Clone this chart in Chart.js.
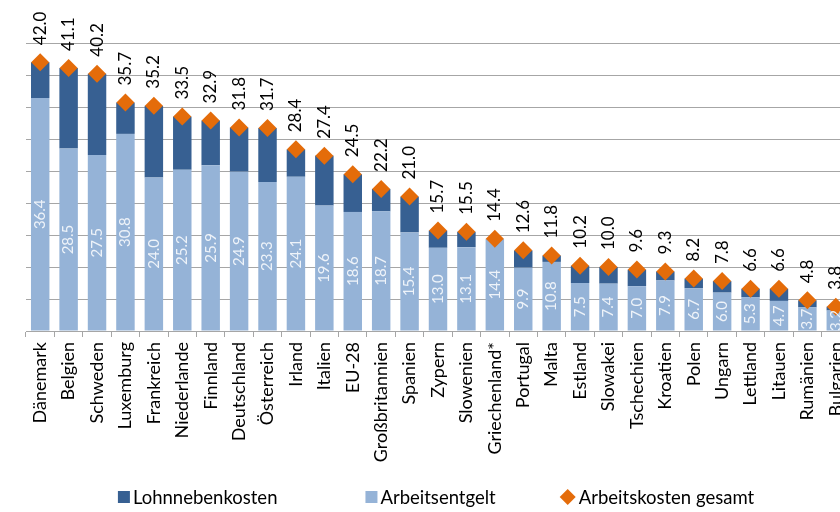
<!DOCTYPE html>
<html>
<head>
<meta charset="utf-8">
<script src="https://cdn.jsdelivr.net/npm/chart.js@4"></script>
<style>
  html, body { margin: 0; padding: 0; background: #fff; overflow: hidden; }
  #wrap { width: 870px; height: 512px; }
</style>
</head>
<body>
<div id="wrap"><canvas id="laborChart"></canvas></div>
<script>
const laender = ['Dänemark', 'Belgien', 'Schweden', 'Luxemburg', 'Frankreich', 'Niederlande', 'Finnland',
  'Deutschland', 'Österreich', 'Irland', 'Italien', 'EU-28', 'Großbritannien', 'Spanien', 'Zypern',
  'Slowenien', 'Griechenland*', 'Portugal', 'Malta', 'Estland', 'Slowakei', 'Tschechien', 'Kroatien',
  'Polen', 'Ungarn', 'Lettland', 'Litauen', 'Rumänien', 'Bulgarien'];

const arbeitsentgelt = [36.4, 28.5, 27.5, 30.8, 24.0, 25.2, 25.9, 24.9, 23.3, 24.1, 19.6, 18.6, 18.7, 15.4,
  13.0, 13.1, 14.4, 9.9, 10.8, 7.5, 7.4, 7.0, 7.9, 6.7, 6.0, 5.3, 4.7, 3.7, 3.2];

const lohnnebenkosten = [5.6, 12.6, 12.7, 4.9, 11.2, 8.3, 7.0, 6.9, 8.4, 4.3, 7.8, 5.9, 3.5, 5.6,
  2.7, 2.4, 0.0, 2.7, 1.0, 2.7, 2.6, 2.6, 1.4, 1.5, 1.8, 1.3, 1.9, 1.1, 0.6];

const gesamt = [42.0, 41.1, 40.2, 35.7, 35.2, 33.5, 32.9, 31.8, 31.7, 28.4, 27.4, 24.5, 22.2, 21.0,
  15.7, 15.5, 14.4, 12.6, 11.8, 10.2, 10.0, 9.6, 9.3, 8.2, 7.8, 6.6, 6.6, 4.8, 3.8];

const legendReihenfolge = ['Lohnnebenkosten', 'Arbeitsentgelt', 'Arbeitskosten gesamt'];

const FONT = 'Lato, "DejaVu Sans", sans-serif';

// value labels: total above the diamond, Arbeitsentgelt inside the light bar
const wertLabels = {
  id: 'wertLabels',
  afterDatasetsDraw(chart) {
    const ctx = chart.ctx;
    const metaEntgelt = chart.getDatasetMeta(1);
    const metaGesamt = chart.getDatasetMeta(2);
    metaGesamt.data.forEach((pt, i) => {
      ctx.save();
      ctx.translate(pt.x, pt.y - 17);
      ctx.rotate(-Math.PI / 2);
      ctx.font = '17px ' + FONT;
      ctx.fillStyle = '#000';
      ctx.textAlign = 'left';
      ctx.textBaseline = 'middle';
      ctx.fillText(gesamt[i].toFixed(1), 0, 0);
      ctx.restore();
    });
    metaEntgelt.data.forEach((bar, i) => {
      ctx.save();
      ctx.translate(bar.x, (bar.y + bar.base) / 2);
      ctx.rotate(-Math.PI / 2);
      ctx.font = '15px ' + FONT;
      ctx.fillStyle = '#eef3f9';
      ctx.textAlign = 'center';
      ctx.textBaseline = 'middle';
      ctx.fillText(arbeitsentgelt[i].toFixed(1), 0, 0);
      ctx.restore();
    });
  }
};

// legend drawn in the bottom padding, wide spacing like the original
const legende = {
  id: 'legende',
  afterDraw(chart) {
    const ctx = chart.ctx;
    const gaps = [88, 66];
    const y = chart.height - 15;
    ctx.save();
    ctx.font = '18.5px ' + FONT;
    ctx.textBaseline = 'middle';
    ctx.textAlign = 'left';
    const items = legendReihenfolge.map(name => {
      const ds = chart.data.datasets.find(d => d.label === name);
      return { ds, w: 15 + ctx.measureText(name).width };
    });
    const total = items.reduce((s, it) => s + it.w, 0) + gaps[0] + gaps[1];
    let x = (chart.width - total) / 2;
    items.forEach((it, i) => {
      ctx.fillStyle = it.ds.backgroundColor;
      if (it.ds.type === 'line') {
        ctx.beginPath();
        ctx.moveTo(x + 6, y - 8);
        ctx.lineTo(x + 14, y);
        ctx.lineTo(x + 6, y + 8);
        ctx.lineTo(x - 2, y);
        ctx.closePath();
        ctx.fill();
      } else {
        ctx.fillRect(x, y - 6, 12, 12);
      }
      ctx.fillStyle = '#000';
      ctx.fillText(it.ds.label, x + 15 + (it.ds.type === 'line' ? 2 : 0), y + 1);
      x += it.w + (gaps[i] || 0);
    });
    ctx.restore();
  }
};

const ctx = document.getElementById('laborChart').getContext('2d');
new Chart(ctx, {
  type: 'bar',
  data: {
    labels: laender,
    datasets: [
      {
        label: 'Lohnnebenkosten',
        data: lohnnebenkosten,
        backgroundColor: '#376092',
        stack: 's',
        order: 3,
        barPercentage: 0.65,
        categoryPercentage: 1.0
      },
      {
        label: 'Arbeitsentgelt',
        data: arbeitsentgelt,
        backgroundColor: '#95b3d7',
        stack: 's',
        order: 2,
        barPercentage: 0.65,
        categoryPercentage: 1.0
      },
      {
        type: 'line',
        label: 'Arbeitskosten gesamt',
        data: gesamt,
        showLine: false,
        pointStyle: 'rectRot',
        pointRadius: 9,
        pointHoverRadius: 9,
        pointBorderWidth: 0,
        backgroundColor: '#e46c0a',
        borderColor: '#e46c0a',
        order: 1
      }
    ]
  },
  options: {
    responsive: true,
    maintainAspectRatio: false,
    animation: false,
    layout: {
      padding: { top: 43, left: 26, right: 20, bottom: 40 }
    },
    plugins: {
      legend: { display: false },
      tooltip: { enabled: false }
    },
    scales: {
      x: {
        stacked: true,
        afterFit: (scale) => { scale.height = 141; },
        grid: {
          drawOnChartArea: false,
          drawTicks: true,
          tickLength: 6,
          color: '#a6a6a6',
          offset: true
        },
        border: { display: true, color: '#a6a6a6', width: 1 },
        ticks: {
          color: '#000',
          font: { family: FONT, size: 18 },
          maxRotation: 90,
          minRotation: 90,
          autoSkip: false,
          padding: 5
        }
      },
      y: {
        stacked: true,
        min: 0,
        max: 45,
        afterFit: (scale) => { scale.width = 0; },
        ticks: { display: false, stepSize: 5 },
        grid: { color: '#a6a6a6', drawTicks: false, lineWidth: 1 },
        border: { display: false }
      }
    }
  },
  plugins: [wertLabels, legende]
});
</script>
</body>
</html>
